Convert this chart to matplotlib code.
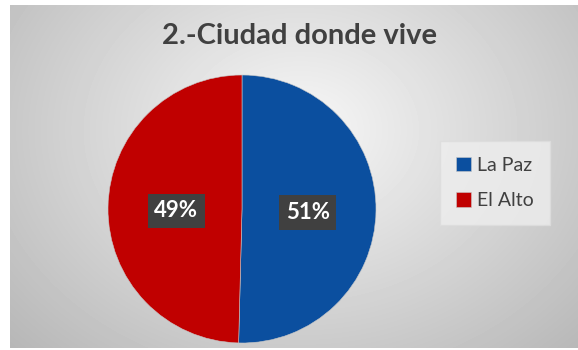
import numpy as np
import matplotlib
matplotlib.use("Agg")
import matplotlib.pyplot as plt

categories = ["La Paz", "El Alto"]
values = [50.4, 49.6]
labels = ["51%", "49%"]
colors = ["#0B4F9F", "#C00000"]
title = "2.-Ciudad donde vive"

W, H = 578, 350
fig = plt.figure(figsize=(W / 100, H / 100), dpi=100)
fig.patch.set_facecolor("white")

# background with radial gradient
bx0, by0, bx1, by1 = 10, 5, 578, 348
bg = fig.add_axes([bx0 / W, 1 - by1 / H, (bx1 - bx0) / W, (by1 - by0) / H])
bg.set_axis_off()
yy, xx = np.mgrid[by0:by1, bx0:bx1]
cx, cy = 300, 130
d = np.sqrt(((xx - cx) / 330.0) ** 2 + ((yy - cy) / 260.0) ** 2)
v = 0.97 - 0.21 * np.clip(d, 0, 1.2)
bg.imshow(v, cmap="gray", vmin=0, vmax=1, aspect="auto", interpolation="bilinear")

# pie
r = 134
pcx, pcy = 242, 209
ax = fig.add_axes([(pcx - r) / W, 1 - (pcy + r) / H, 2 * r / W, 2 * r / H])
wedges, _ = ax.pie(values, colors=colors, startangle=90, counterclock=False,
                   radius=1, wedgeprops=dict(linewidth=0.4, edgecolor="#c8c8c8"))
ax.set_xlim(-1, 1)
ax.set_ylim(-1, 1)
ax.set_aspect("auto")

for w, lab in zip(wedges, labels):
    ang = np.deg2rad((w.theta1 + w.theta2) / 2)
    x, y = 0.49 * np.cos(ang), 0.49 * np.sin(ang)
    ax.text(x, y - 0.02, lab, ha="center", va="center", color="white",
            fontsize=16, fontweight="bold", family="Lato",
            bbox=dict(boxstyle="square,pad=0.3", fc="#404040", ec="none"))

fig.text(300 / W, 1 - 36 / H, title, ha="center", va="center",
         fontsize=21, fontweight="bold", color="#404040", family="Lato")

leg = fig.legend(wedges, categories, loc="center", bbox_to_anchor=(495 / W, 1 - 183 / H),
                 frameon=True, handlelength=0.75, handleheight=0.75,
                 handletextpad=0.35, labelspacing=0.95, borderpad=0.8,
                 prop=dict(family="Lato", size=14))
leg.get_frame().set_facecolor("#eeeeee")
leg.get_frame().set_edgecolor("#dddddd")
leg.get_frame().set_alpha(0.8)
leg.get_frame().set_boxstyle("square", pad=0)
for t in leg.get_texts():
    t.set_color("#404040")

fig.savefig("out.png", dpi=100)
